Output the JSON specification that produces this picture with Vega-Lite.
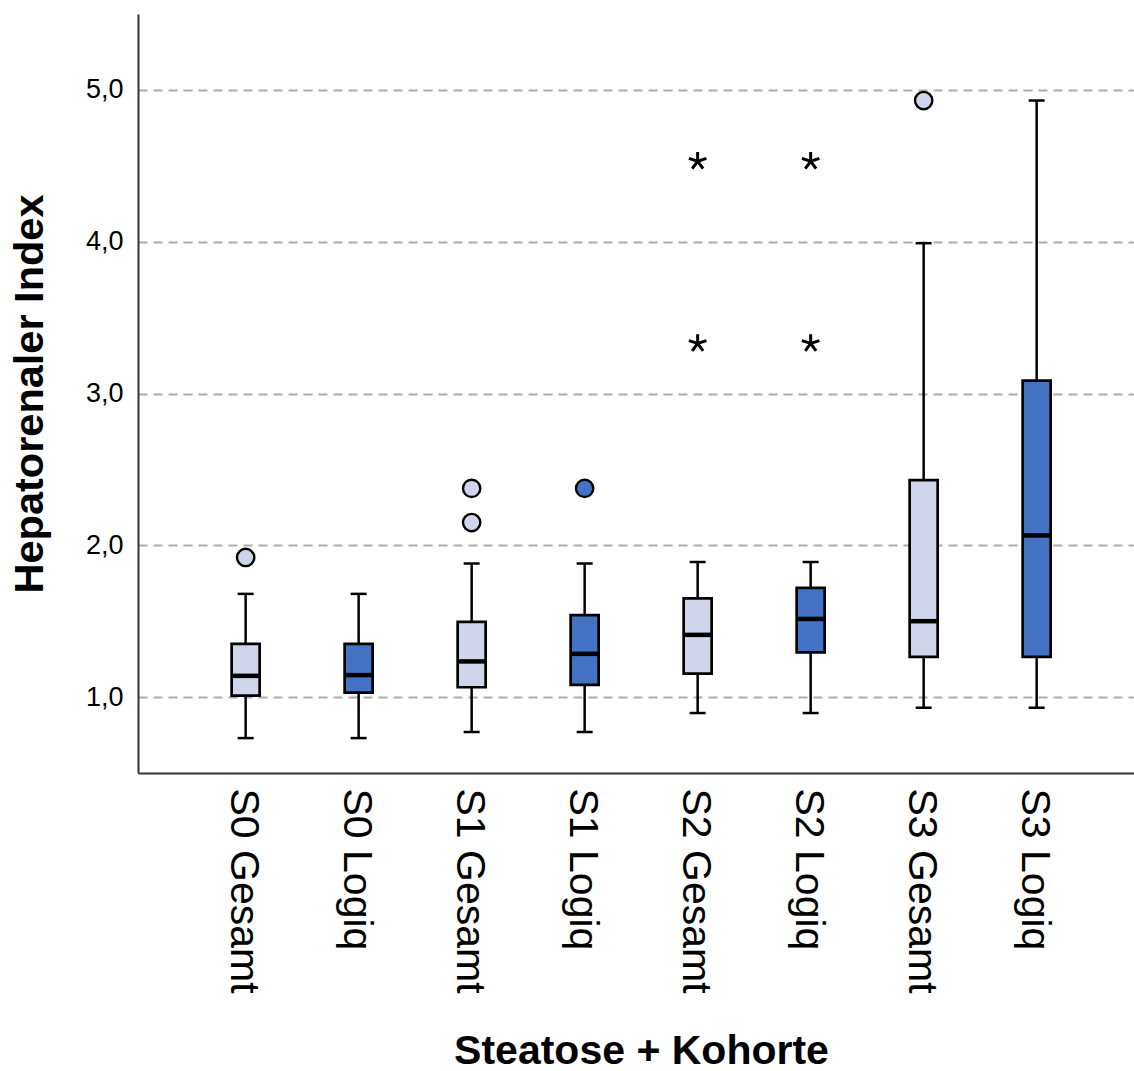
{
  "$schema": "https://vega.github.io/schema/vega-lite/v6.json",
  "width": 996,
  "height": 759,
  "autosize": {"type": "none"},
  "padding": {"left": 138, "top": 14, "right": 0, "bottom": 298},
  "background": "white",
  "config": {
    "view": {"stroke": null},
    "font": "Liberation Sans",
    "axis": {"labelColor": "black", "titleColor": "black", "domainColor": "#333333", "domainWidth": 2, "ticks": false, "labelLimit": 0, "titleLimit": 0}
  },
  "datasets": {
    "boxes": [
      {"cat": "S0 Gesamt", "grp": "Gesamt", "lower": 0.73, "q1": 1.01, "median": 1.14, "q3": 1.35, "upper": 1.68},
      {"cat": "S0 Logiq", "grp": "Logiq", "lower": 0.73, "q1": 1.03, "median": 1.145, "q3": 1.35, "upper": 1.68},
      {"cat": "S1 Gesamt", "grp": "Gesamt", "lower": 0.77, "q1": 1.065, "median": 1.235, "q3": 1.495, "upper": 1.88},
      {"cat": "S1 Logiq", "grp": "Logiq", "lower": 0.77, "q1": 1.08, "median": 1.285, "q3": 1.54, "upper": 1.88},
      {"cat": "S2 Gesamt", "grp": "Gesamt", "lower": 0.895, "q1": 1.155, "median": 1.41, "q3": 1.65, "upper": 1.89},
      {"cat": "S2 Logiq", "grp": "Logiq", "lower": 0.895, "q1": 1.295, "median": 1.515, "q3": 1.72, "upper": 1.89},
      {"cat": "S3 Gesamt", "grp": "Gesamt", "lower": 0.93, "q1": 1.265, "median": 1.5, "q3": 2.43, "upper": 3.99},
      {"cat": "S3 Logiq", "grp": "Logiq", "lower": 0.93, "q1": 1.265, "median": 2.065, "q3": 3.085, "upper": 4.93}
    ],
    "outliers": [
      {"cat": "S0 Gesamt", "grp": "Gesamt", "kind": "circle", "value": 1.92},
      {"cat": "S1 Gesamt", "grp": "Gesamt", "kind": "circle", "value": 2.375},
      {"cat": "S1 Gesamt", "grp": "Gesamt", "kind": "circle", "value": 2.15},
      {"cat": "S1 Logiq", "grp": "Logiq", "kind": "circle", "value": 2.375},
      {"cat": "S2 Gesamt", "grp": "Gesamt", "kind": "star", "value": 4.53},
      {"cat": "S2 Gesamt", "grp": "Gesamt", "kind": "star", "value": 3.33},
      {"cat": "S2 Logiq", "grp": "Logiq", "kind": "star", "value": 4.53},
      {"cat": "S2 Logiq", "grp": "Logiq", "kind": "star", "value": 3.33},
      {"cat": "S3 Gesamt", "grp": "Gesamt", "kind": "circle", "value": 4.93}
    ]
  },
  "encoding": {
    "x": {
      "field": "cat",
      "type": "nominal",
      "scale": {
        "domain": ["S0 Gesamt", "S0 Logiq", "S1 Gesamt", "S1 Logiq", "S2 Gesamt", "S2 Logiq", "S3 Gesamt", "S3 Logiq"],
        "paddingInner": 0,
        "paddingOuter": 0.407,
        "align": 0.556
      },
      "axis": {
        "title": "Steatose + Kohorte",
        "titleFontSize": 41,
        "titleFontWeight": "bold",
        "titleX": 503,
        "titleY": 290,
        "titleBaseline": "alphabetic",
        "titleAlign": "center",
        "labelFontSize": 41,
        "labelAngle": 90,
        "labelAlign": "left",
        "labelBaseline": "middle",
        "labelPadding": 15,
        "labelOffset": -3
      }
    }
  },
  "layer": [
    {
      "data": {"name": "boxes"},
      "mark": {"type": "rule", "stroke": "black", "strokeWidth": 2.5},
      "encoding": {
        "y": {
          "field": "lower",
          "type": "quantitative",
          "scale": {"domain": [0.5, 5.5], "nice": false, "zero": false},
          "axis": {
            "values": [1, 2, 3, 4, 5],
            "grid": true,
            "gridDash": [9, 6],
            "gridColor": "#acacac",
            "gridWidth": 2,
            "labelExpr": "replace(format(datum.value, '.1f'), '.', ',')",
            "labelFontSize": 27,
            "labelPadding": 15,
            "title": "Hepatorenaler Index",
            "titleFontSize": 41.5,
            "titleFontWeight": "bold",
            "titleAngle": -90,
            "titleX": -96,
            "titleY": 379.5,
            "titleBaseline": "alphabetic",
            "titleAlign": "center"
          }
        },
        "y2": {"field": "upper"}
      }
    },
    {
      "data": {"name": "boxes"},
      "mark": {"type": "tick", "color": "black", "opacity": 1, "thickness": 2.5, "size": 16},
      "encoding": {"y": {"field": "lower", "type": "quantitative"}}
    },
    {
      "data": {"name": "boxes"},
      "mark": {"type": "tick", "color": "black", "opacity": 1, "thickness": 2.5, "size": 16},
      "encoding": {"y": {"field": "upper", "type": "quantitative"}}
    },
    {
      "data": {"name": "boxes"},
      "mark": {"type": "bar", "size": 28, "stroke": "black", "strokeWidth": 2.7, "opacity": 1},
      "encoding": {
        "y": {"field": "q1", "type": "quantitative"},
        "y2": {"field": "q3"},
        "fill": {"field": "grp", "type": "nominal", "scale": {"domain": ["Gesamt", "Logiq"], "range": ["#cfd5ea", "#4472c4"]}, "legend": null}
      }
    },
    {
      "data": {"name": "boxes"},
      "mark": {"type": "tick", "color": "black", "opacity": 1, "thickness": 4.5, "size": 28},
      "encoding": {"y": {"field": "median", "type": "quantitative"}}
    },
    {
      "data": {"name": "outliers"},
      "transform": [{"filter": "datum.kind === 'circle'"}],
      "mark": {"type": "point", "shape": "circle", "filled": true, "size": 300, "stroke": "black", "strokeWidth": 2.4, "opacity": 1},
      "encoding": {
        "y": {"field": "value", "type": "quantitative"},
        "fill": {"field": "grp", "type": "nominal", "legend": null}
      }
    },
    {
      "data": {"name": "outliers"},
      "transform": [{"filter": "datum.kind === 'star'"}],
      "mark": {
        "type": "point",
        "shape": "M0,0L0,-1M0,0L0.951,-0.309M0,0L0.588,0.809M0,0L-0.588,0.809M0,0L-0.951,-0.309",
        "filled": false,
        "size": 340,
        "stroke": "black",
        "strokeWidth": 3,
        "opacity": 1
      },
      "encoding": {"y": {"field": "value", "type": "quantitative"}}
    }
  ]
}
